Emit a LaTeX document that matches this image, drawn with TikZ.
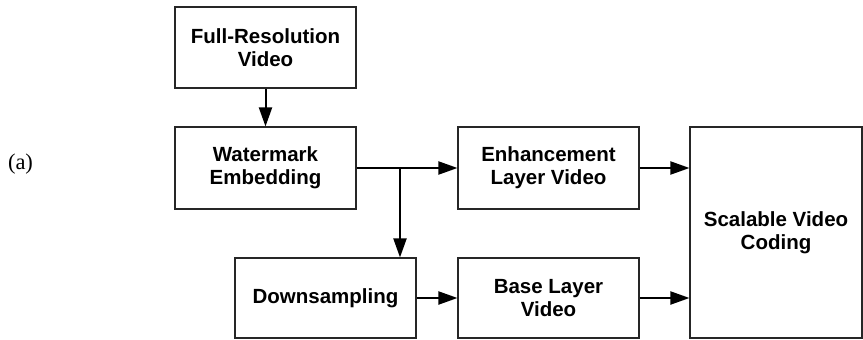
\documentclass[tikz,border=0pt]{standalone}
\usepackage{fontspec}
\setsansfont{Liberation Sans}
\setmainfont{Liberation Serif}
\usetikzlibrary{arrows.meta}
\begin{document}
\begin{tikzpicture}[x=1pt,y=-1pt,
  blk/.style={draw=black!85, line width=1.1pt, minimum width=181pt, minimum height=81pt,
    inner sep=0pt, align=center, font=\sffamily\bfseries\fontsize{20.5}{23}\selectfont},
  arr/.style={line width=2pt, -{Triangle[length=19pt,width=13pt]}}]
\useasboundingbox (0,0) rectangle (863,340);
\node[blk] (full) at (265.5,47.5) {Full-Resolution\\Video};
\node[blk, minimum height=82pt] (wm) at (265.5,168) {Watermark\\Embedding};
\node[blk, minimum height=82pt] (enh) at (548.5,168) {Enhancement\\Layer Video};
\node[blk, minimum height=80pt] (down) at (325.5,298) {Downsampling};
\node[blk, minimum height=80pt] (base) at (548.5,298) {Base Layer\\Video};
\node[blk, minimum width=172pt, minimum height=211pt] (svc) at (776,232.5) {Scalable Video\\Coding};
\node[font=\fontsize{22.5}{26}\selectfont, inner sep=0pt] (lab) at (20.5,164.5) {(a)};
\coordinate (br) at (400,168);
\draw[arr] (full) -- (wm);
\draw[arr] (wm.east) -- (enh.west);
\draw[arr] (br) -- (br |- down.north);
\draw[arr] (down) -- (base);
\draw[arr] (enh.east) -- (enh.east -| svc.west);
\draw[arr] (base.east) -- (base.east -| svc.west);
\end{tikzpicture}
\end{document}
